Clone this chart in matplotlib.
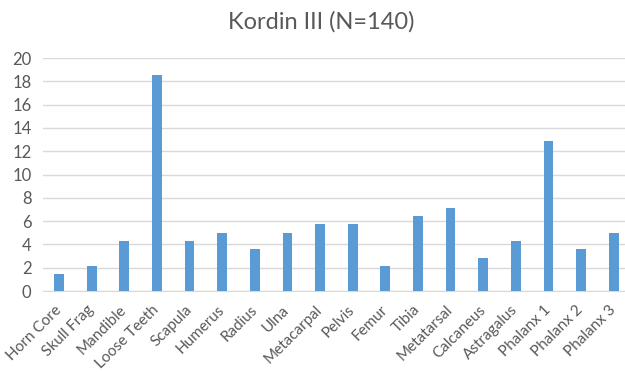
import matplotlib
matplotlib.use("Agg")
import matplotlib.pyplot as plt

categories = ["Horn Core", "Skull Frag", "Mandible", "Loose Teeth", "Scapula",
              "Humerus", "Radius", "Ulna", "Metacarpal", "Pelvis", "Femur",
              "Tibia", "Metatarsal", "Calcaneus", "Astragalus", "Phalanx 1",
              "Phalanx 2", "Phalanx 3"]
counts = [2, 3, 6, 26, 6, 7, 5, 7, 8, 8, 3, 9, 10, 4, 6, 18, 5, 7]
total = 140
percent = [c / total * 100 for c in counts]
yticks = list(range(0, 21, 2))

plt.rcParams["font.family"] = ["Lato", "DejaVu Sans"]
text_grey = "#595959"

fig = plt.figure(figsize=(6.25, 3.72), dpi=100)
ax = fig.add_axes([0.0683, 0.2177, 0.9397, 0.6263])

x = range(len(categories))
ax.bar(x, percent, width=0.3, color="#5b9bd5", zorder=3)

ax.set_xlim(-0.5, len(categories) - 0.5)
ax.set_ylim(0, 20)
ax.set_yticks(yticks)
ax.set_yticklabels([str(t) for t in yticks], fontsize=12, color=text_grey)
ax.set_xticks(list(x))
ax.set_xticklabels(categories, rotation=45, ha="right", va="center",
                   rotation_mode="anchor", fontsize=11, color=text_grey)
ax.tick_params(axis="both", length=0)
ax.tick_params(axis="y", pad=8)
ax.tick_params(axis="x", pad=12)

ax.grid(axis="y", color="#d9d9d9", linewidth=1, zorder=0)
for s in ["top", "right", "left"]:
    ax.spines[s].set_visible(False)
ax.spines["bottom"].set_color("#d9d9d9")

fig.text(321 / 625, 1 - 22 / 372, "Kordin III (N=140)", ha="center", va="center",
         fontsize=17, color=text_grey)

fig.savefig("out.png", dpi=100)
